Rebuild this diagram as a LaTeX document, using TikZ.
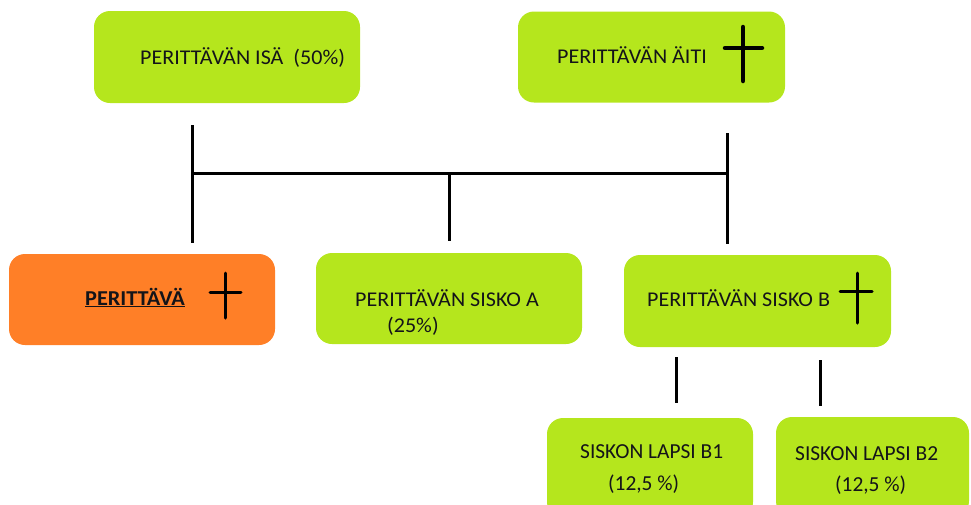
\documentclass[tikz,border=0pt]{standalone}
\usepackage{fontspec}
\setmainfont{Carlito}
\newfontfamily\widefont{Carlito}[FakeStretch=1.05]
\definecolor{boxgreen}{RGB}{181,230,29}
\definecolor{boxorange}{RGB}{255,127,39}
\definecolor{txt}{RGB}{20,20,25}
\tikzset{
  gbox/.style={fill=boxgreen, rounded corners=16pt, inner sep=0pt, draw=none},
  obox/.style={fill=boxorange, rounded corners=16pt, inner sep=0pt, draw=none},
  lbl/.style={anchor=base west, inner sep=0pt, text=txt, font=\widefont\fontsize{21}{24}\selectfont},
  lblsmall/.style={anchor=base west, inner sep=0pt, text=txt, font=\fontsize{21.4}{24}\selectfont},
  conn/.style={line width=3pt, black},
  crossline/.style={line width=3pt, black, line cap=round},
}
\begin{document}
\begin{tikzpicture}[x=1pt,y=-1pt]
\useasboundingbox (0,0) rectangle (971,504);
\clip (0,0) rectangle (971,504);
% boxes
\node[gbox, minimum width=266pt, minimum height=92pt] (isa) at (227,57) {};
\node[gbox, minimum width=267pt, minimum height=91pt] (aiti) at (651.5,57) {};
\node[obox, minimum width=266pt, minimum height=91pt] (perittava) at (142,299.5) {};
\node[gbox, minimum width=266pt, minimum height=91pt] (siskoA) at (449,298.5) {};
\node[gbox, minimum width=267pt, minimum height=92pt] (siskoB) at (757.5,301) {};
\node[gbox, minimum width=206pt, minimum height=100pt] (lapsiB1) at (650,468) {};
\node[gbox, minimum width=193pt, minimum height=100pt] (lapsiB2) at (872.5,467) {};
% texts
\node[lbl] (tisa) at (140,64) {PERITTÄVÄN ISÄ \ (50\%)};
\node[lbl] (taiti) at (557,63) {PERITTÄVÄN ÄITI};
\node[lbl, font=\widefont\fontsize{21.2}{24}\selectfont\bfseries] (tper) at (85,305) {\underline{PERITTÄVÄ}};
\node[lbl] (tA1) at (355,306) {PERITTÄVÄN SISKO A};
\node[lbl] (tA2) at (387,332) {(25\%)};
\node[lbl] (tB) at (647,306) {PERITTÄVÄN SISKO B};
\node[lblsmall] (tB1a) at (580,458) {SISKON LAPSI B1};
\node[lblsmall] (tB1b) at (608,490) {(12,5 \%)};
\node[lblsmall] (tB2a) at (795,460) {SISKON LAPSI B2};
\node[lblsmall] (tB2b) at (835,491) {(12,5 \%)};
% crosses
\draw[crossline, line width=4.5pt] (743,27) -- (743,81) (725,48) -- (762,48);
\draw[crossline] (225,273) -- (225,318) (210,292) -- (241,292);
\draw[crossline] (857,273) -- (857,323) (840,291) -- (872,291);
% connectors
\coordinate (isaLow) at (192,125);
\coordinate (perTop) at (192,243);
\coordinate (aitiLow) at (727,133);
\coordinate (siskoBTop) at (727,244);
\coordinate (joinL) at (192,173);
\coordinate (joinR) at (727,173);
\coordinate (joinM) at (449,173);
\coordinate (siskoATop) at (449,241);
\coordinate (b1Top) at (676,357);
\coordinate (b1Bot) at (676,403);
\coordinate (b2Top) at (820,360);
\coordinate (b2Bot) at (820,406);
\draw[conn] (isaLow) -- (perTop);
\draw[conn] (aitiLow) -- (siskoBTop);
\draw[conn] (joinL) -- (joinR);
\draw[conn] (joinM) -- (siskoATop);
\draw[conn] (b1Top) -- (b1Bot);
\draw[conn] (b2Top) -- (b2Bot);
\end{tikzpicture}
\end{document}
